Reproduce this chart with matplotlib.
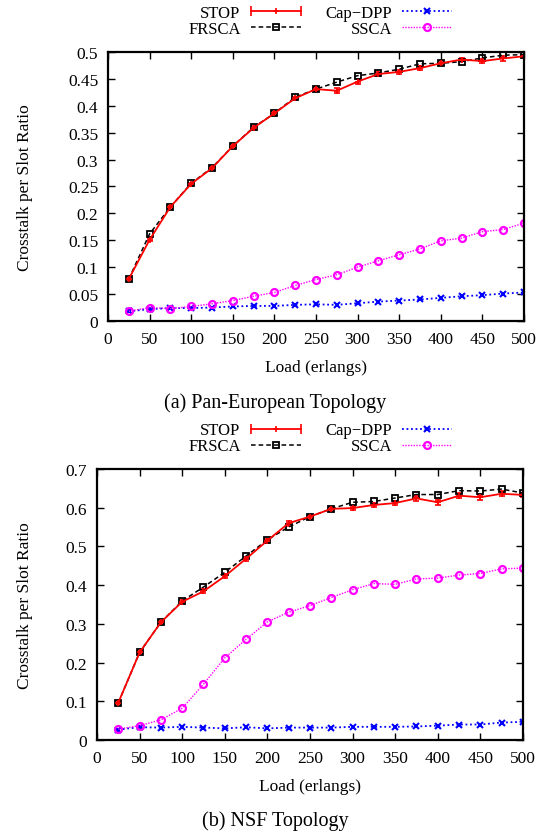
import matplotlib
matplotlib.use("Agg")
import matplotlib.pyplot as plt
from matplotlib.lines import Line2D
from matplotlib.legend_handler import HandlerLine2D
import numpy as np

plt.rcParams['font.family'] = ['Liberation Serif', 'DejaVu Serif']

load = [25, 50, 75, 100, 125, 150, 175, 200, 225, 250,
        275, 300, 325, 350, 375, 400, 425, 450, 475, 500]

# (a) Pan-European
pan_stop = [0.078, 0.151, 0.212, 0.255, 0.284, 0.325, 0.359, 0.386, 0.414, 0.431,
            0.428, 0.445, 0.459, 0.463, 0.470, 0.479, 0.486, 0.483, 0.488, 0.492]
pan_frsca = [0.078, 0.162, 0.212, 0.256, 0.285, 0.325, 0.360, 0.386, 0.416, 0.431,
             0.444, 0.456, 0.461, 0.468, 0.478, 0.479, 0.482, 0.489, 0.494, 0.495]
pan_capdpp = [0.018, 0.022, 0.024, 0.024, 0.025, 0.027, 0.028, 0.028, 0.030, 0.031,
              0.030, 0.033, 0.036, 0.038, 0.040, 0.043, 0.046, 0.048, 0.051, 0.053]
pan_ssca = [0.018, 0.025, 0.023, 0.027, 0.032, 0.038, 0.046, 0.053, 0.066, 0.077,
            0.086, 0.100, 0.112, 0.123, 0.134, 0.149, 0.154, 0.166, 0.170, 0.182]
pan_err = [0.002, 0.003, 0.002, 0.002, 0.003, 0.002, 0.003, 0.003, 0.003, 0.003,
           0.005, 0.004, 0.004, 0.004, 0.004, 0.003, 0.003, 0.004, 0.004, 0.003]

# (b) NSF
nsf_stop = [0.096, 0.226, 0.304, 0.357, 0.384, 0.423, 0.468, 0.515, 0.560, 0.577,
            0.597, 0.599, 0.607, 0.612, 0.624, 0.614, 0.631, 0.627, 0.636, 0.633]
nsf_frsca = [0.096, 0.226, 0.304, 0.359, 0.395, 0.433, 0.475, 0.517, 0.550, 0.577,
             0.597, 0.614, 0.616, 0.625, 0.634, 0.634, 0.644, 0.643, 0.648, 0.638]
nsf_capdpp = [0.027, 0.033, 0.032, 0.034, 0.032, 0.030, 0.033, 0.030, 0.032, 0.032,
              0.032, 0.034, 0.034, 0.034, 0.035, 0.037, 0.040, 0.040, 0.045, 0.047]
nsf_ssca = [0.028, 0.037, 0.052, 0.082, 0.144, 0.212, 0.260, 0.305, 0.330, 0.347,
            0.368, 0.388, 0.404, 0.402, 0.416, 0.418, 0.426, 0.430, 0.442, 0.444]
nsf_err = [0.003, 0.003, 0.003, 0.004, 0.005, 0.005, 0.005, 0.005, 0.006, 0.005,
           0.006, 0.006, 0.006, 0.006, 0.006, 0.007, 0.006, 0.007, 0.006, 0.006]

labels = ['STOP', 'FRSCA', 'Cap\u2212DPP', 'SSCA']

FS = 12.5
LFS = 12


def draw(ax, stop, err, frsca, capdpp, ssca, ymax, ystep, ylab_x, caption, cap_y, leg_y):
    ax.errorbar(load, stop, yerr=err, color='red', lw=1.3, marker='+',
                ms=5, mew=1.2, capsize=2.5, elinewidth=1.2)
    h2, = ax.plot(load, frsca, color='black', ls=(0, (3, 2)), lw=1.1, marker='s',
                  ms=5, mfc='none', mew=1.3)
    h3, = ax.plot(load, capdpp, color='blue', ls=(0, (1, 1.5)), lw=1.3, marker='x',
                  ms=4.5, mew=1.5)
    h4, = ax.plot(load, ssca, color='magenta', ls=(0, (1, 1)), lw=1.0, marker='o',
                  ms=5, mfc='none', mew=1.6)
    ax.set_xlim(0, 500)
    ax.set_ylim(0, ymax)
    ax.set_xticks(np.arange(0, 501, 50))
    yt = np.arange(0, ymax + 1e-9, ystep)
    ax.set_yticks(yt)
    ax.set_yticklabels(['0'] + ['%g' % v for v in yt[1:]])
    ax.tick_params(direction='in', top=True, right=True, labelsize=FS,
                   length=5, width=1)
    ax.tick_params(axis='x', pad=7)
    ax.tick_params(axis='y', pad=7)
    for s in ax.spines.values():
        s.set_linewidth(1.6)
    ax.set_xlabel('Load (erlangs)', fontsize=FS)
    ax.xaxis.set_label_coords(0.5, -0.14)
    ax.set_ylabel('Crosstalk per Slot Ratio', fontsize=FS)
    ax.yaxis.set_label_coords(ylab_x, 0.5)

    # legend: STOP drawn like gnuplot's yerrorlines key (caps at both ends)
    caps = Line2D([], [], color='red', lw=1.3, marker='|', ms=7, mew=1.2)
    mid = Line2D([], [], color='red', ls='none', marker='+', ms=5, mew=1.2)
    ax.legend([(caps, mid), h2, h3, h4], labels,
              handler_map={caps: HandlerLine2D(numpoints=2, marker_pad=0)},
              ncol=2, markerfirst=False, frameon=False, fontsize=LFS,
              loc='center', bbox_to_anchor=(0.581, leg_y),
              bbox_transform=ax.figure.transFigure,
              handlelength=3.0, columnspacing=1.5, labelspacing=0.0,
              handletextpad=0.6, borderpad=0)
    ax.text(0.5, cap_y, caption, transform=ax.figure.transFigure,
            ha='center', va='center', fontsize=14.5)


fig = plt.figure(figsize=(5.51, 8.37), dpi=100)
ax1 = fig.add_axes([0.196, 0.6153, 0.755, 0.3214])
ax2 = fig.add_axes([0.176, 0.1147, 0.773, 0.3238])

draw(ax1, pan_stop, pan_err, pan_frsca, pan_capdpp, pan_ssca, 0.5, 0.05, -0.18,
     '(a) Pan-European Topology', 1 - 403 / 837, 1 - 21.5 / 837)
draw(ax2, nsf_stop, nsf_err, nsf_frsca, nsf_capdpp, nsf_ssca, 0.7, 0.1, -0.15,
     '(b) NSF Topology', 1 - 821 / 837, 1 - 439.5 / 837)

fig.savefig('out.png', dpi=100)
